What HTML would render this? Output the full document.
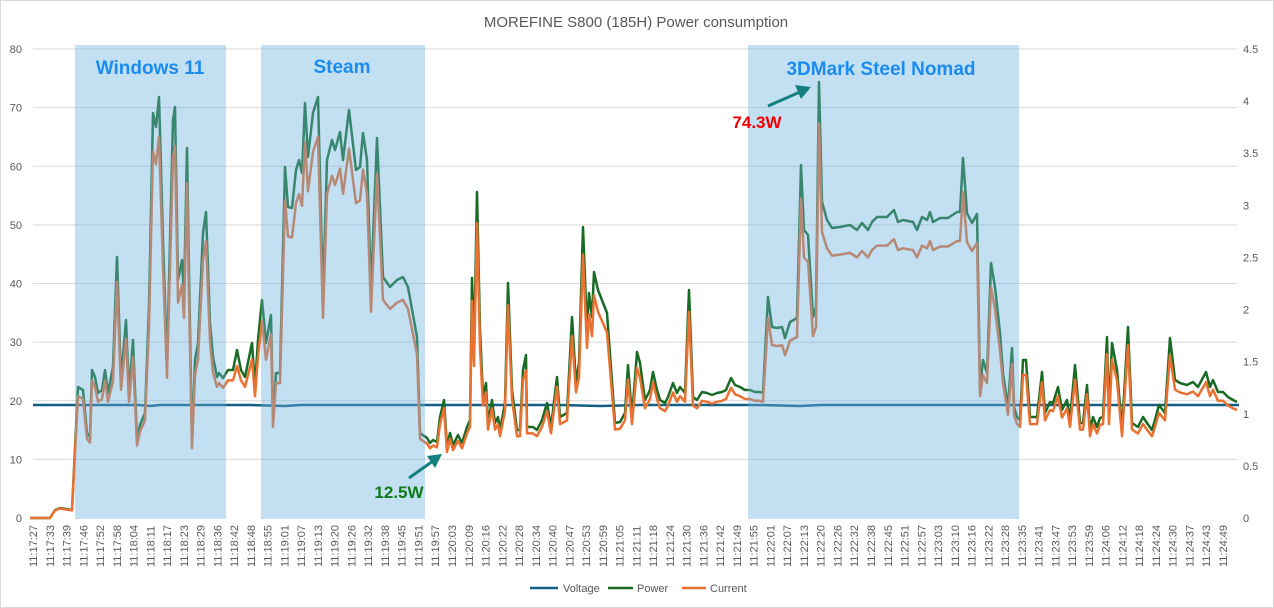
<!DOCTYPE html>
<html><head><meta charset="utf-8"><style>
html,body{margin:0;padding:0;background:#fff;}
svg{display:block;font-family:"Liberation Sans",Arial,sans-serif;}
</style></head><body>
<svg id="s" width="1274" height="608" viewBox="0 0 1274 608" xmlns="http://www.w3.org/2000/svg">
<rect x="0.5" y="0.5" width="1273" height="607" fill="#fff" stroke="#d9d9d9"/>
<text x="636" y="27" text-anchor="middle" font-size="15" fill="#595959">MOREFINE S800 (185H) Power consumption</text>
<g id="grid" stroke="#d9d9d9" stroke-width="1"></g>
<g id="yl" font-size="11" fill="#595959"></g>
<g id="xl" font-size="11" fill="#595959"></g>
<polyline id="volt" fill="none" stroke="#156082" stroke-width="2.5" points="33,405 140,405 150,406 160,405 200,405 250,405 285,406 300,405 400,405 500,405 560,405 600,406 640,405 700,405 760,405 800,406 820,405 900,405 1000,405 1239,405"/>
<polyline id="pw" fill="none" stroke="#196b24" stroke-width="2.5" stroke-linejoin="round"/>
<polyline id="cur" fill="none" stroke="#e97132" stroke-width="2.5" stroke-linejoin="round"/>
<rect x="75" y="45" width="151" height="474" fill="rgb(105,175,222)" fill-opacity="0.4"/>
<rect x="261" y="45" width="164" height="474" fill="rgb(105,175,222)" fill-opacity="0.4"/>
<rect x="748" y="45" width="271" height="474" fill="rgb(105,175,222)" fill-opacity="0.4"/>
<text x="150" y="74" text-anchor="middle" font-size="19" font-weight="bold" fill="#1a8cf0">Windows 11</text>
<text x="342" y="73" text-anchor="middle" font-size="19" font-weight="bold" fill="#1a8cf0">Steam</text>
<text x="881" y="75" text-anchor="middle" font-size="19" font-weight="bold" fill="#1a8cf0">3DMark Steel Nomad</text>
<text x="757" y="128" text-anchor="middle" font-size="17" font-weight="bold" fill="#f00000">74.3W</text>
<text x="399" y="498" text-anchor="middle" font-size="17" font-weight="bold" fill="#0f7a1a">12.5W</text>
<line x1="768" y1="106" x2="800" y2="92" stroke="#138080" stroke-width="3"/>
<polygon points="811,87 795,85 801,99" fill="#138080"/>
<line x1="409" y1="478" x2="433" y2="461" stroke="#138080" stroke-width="3"/>
<polygon points="442,454 427,456 435,468" fill="#138080"/>
<line x1="530" y1="588" x2="558" y2="588" stroke="#156082" stroke-width="2.5"/>
<text x="563" y="592" font-size="11" fill="#595959">Voltage</text>
<line x1="608" y1="588" x2="633" y2="588" stroke="#196b24" stroke-width="2.5"/>
<text x="637" y="592" font-size="11" fill="#595959">Power</text>
<line x1="682" y1="588" x2="706" y2="588" stroke="#e97132" stroke-width="2.5"/>
<text x="710" y="592" font-size="11" fill="#595959">Current</text>
</svg>
<script>
var NS="http://www.w3.org/2000/svg";
function el(t,a,p,txt){var e=document.createElementNS(NS,t);for(var k in a)e.setAttribute(k,a[k]);if(txt!=null)e.textContent=txt;document.getElementById(p).appendChild(e);return e;}
for(var i=0;i<=8;i++){var y=49+i*58.625;
 if(i<8)el("line",{x1:33,x2:1237,y1:y,y2:y},"grid");
 el("text",{x:22,y:y+4,"text-anchor":"end"},"yl",String(80-i*10));}
for(var i=0;i<=9;i++){var y=518-i*52.11;var v=(i*0.5);el("text",{x:1243,y:y+4},"yl",v==0?"0":String(v));}
var labs="11:17:27 11:17:33 11:17:39 11:17:46 11:17:52 11:17:58 11:18:04 11:18:11 11:18:17 11:18:23 11:18:29 11:18:36 11:18:42 11:18:48 11:18:55 11:19:01 11:19:07 11:19:13 11:19:20 11:19:26 11:19:32 11:19:38 11:19:45 11:19:51 11:19:57 11:20:03 11:20:09 11:20:16 11:20:22 11:20:28 11:20:34 11:20:40 11:20:47 11:20:53 11:20:59 11:21:05 11:21:11 11:21:18 11:21:24 11:21:30 11:21:36 11:21:42 11:21:49 11:21:55 11:22:01 11:22:07 11:22:13 11:22:20 11:22:26 11:22:32 11:22:38 11:22:45 11:22:51 11:22:57 11:23:03 11:23:10 11:23:16 11:23:22 11:23:28 11:23:35 11:23:41 11:23:47 11:23:53 11:23:59 11:24:06 11:24:12 11:24:18 11:24:24 11:24:30 11:24:37 11:24:43 11:24:49".split(" ");
for(var i=0;i<labs.length;i++){var x=33+i*16.76+4;el("text",{x:x,y:567,"text-anchor":"start",transform:"rotate(-90 "+x+" 567)"},"xl",labs[i]);}
var P=[30,518,50,518,55,510,60,508,72,510,78,387,83,390,87,433,90,437,92,370,95,377,98,393,102,390,105,370,108,393,113,367,117,257,121,380,126,320,129,393,133,340,137,440,140,425,145,413,149,307,153,113,156,127,159,97,163,240,167,363,173,120,175,107,178,280,182,260,184,297,187,148,189,273,192,443,195,360,198,343,203,233,206,212,210,323,213,357,217,377,219,373,223,378,228,370,233,370,237,350,241,370,245,377,252,343,255,387,258,340,262,300,266,343,271,315,273,420,276,373,280,373,285,167,288,207,292,208,296,170,299,160,302,173,305,103,308,157,313,113,318,97,323,297,327,160,332,140,335,150,340,132,343,160,349,110,356,170,360,167,363,133,367,160,371,290,377,138,383,277,390,287,397,280,403,277,408,287,417,337,420,433,427,438,430,443,433,440,437,442,440,417,444,400,447,447,450,433,453,445,458,435,462,443,467,427,470,420,472,278,474,350,477,192,480,330,483,397,486,383,488,423,492,400,495,423,498,417,500,430,505,403,508,283,512,390,517,430,520,430,523,370,526,355,527,427,533,427,537,430,542,420,547,403,551,427,557,377,560,417,567,413,572,317,576,383,579,363,583,227,587,330,589,293,592,317,594,272,598,290,607,313,615,423,620,422,625,413,628,365,632,417,637,352,640,363,645,400,650,390,653,372,657,390,660,400,665,403,668,397,673,383,677,393,680,387,685,393,689,290,693,397,697,400,702,392,707,393,712,395,717,393,722,392,726,390,731,378,735,385,740,387,745,390,750,390,755,392,760,392,763,393,768,297,772,327,777,328,782,327,785,338,790,322,797,318,801,165,804,230,808,235,813,317,816,307,819,82,822,202,827,220,832,228,840,227,850,225,857,230,862,223,868,230,872,222,877,217,887,217,894,210,898,222,903,220,913,222,917,230,922,217,927,220,930,212,933,222,940,218,948,218,957,212,960,212,963,158,967,213,972,223,977,214,980,387,983,360,987,373,991,263,995,287,1000,333,1003,373,1008,407,1012,348,1014,407,1017,417,1020,420,1023,360,1026,360,1030,417,1037,417,1042,372,1045,413,1050,402,1053,403,1058,387,1062,410,1067,400,1070,420,1075,365,1080,423,1083,423,1087,385,1090,430,1093,417,1097,427,1100,418,1103,417,1107,337,1109,417,1112,343,1117,370,1122,430,1128,327,1132,423,1138,427,1143,417,1147,423,1152,430,1155,420,1159,405,1165,413,1170,338,1175,380,1180,383,1187,385,1193,382,1198,387,1206,372,1210,387,1213,380,1218,392,1223,392,1228,397,1233,400,1237,402];
var a=[],b=[];
for(var i=0;i<P.length;i+=2){a.push(P[i]+","+P[i+1]);var h=518-P[i+1];var f=h>150?0.905:(h>60?0.93:0.95);b.push(P[i]+","+(518-h*f).toFixed(1));}
document.getElementById("pw").setAttribute("points",a.join(" "));
document.getElementById("cur").setAttribute("points",b.join(" "));
</script>
</body></html>
